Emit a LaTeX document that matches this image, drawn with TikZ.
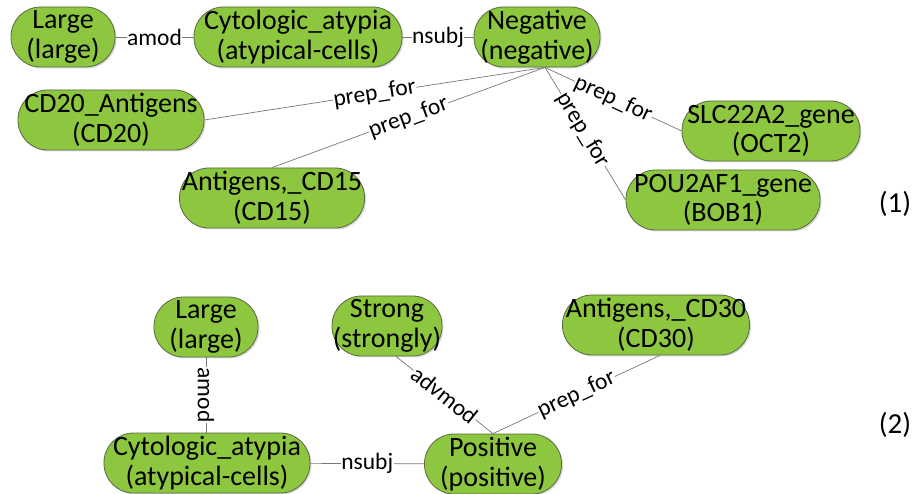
\documentclass[tikz,border=0pt]{standalone}
\usepackage{fontspec}
\setmainfont{Carlito}
\usetikzlibrary{shadows}
\definecolor{ndfill}{RGB}{141,198,63}
\definecolor{ndline}{RGB}{90,105,65}
\definecolor{edgecol}{RGB}{120,120,120}
\newcommand{\ndfont}{\fontsize{28}{29.5}\selectfont}
\newcommand{\lbfont}{\fontsize{23.5}{25}\selectfont}
\newcommand{\numfont}{\fontsize{29}{31}\selectfont}
\begin{document}
\begin{tikzpicture}[x=1pt,y=-1pt,
  nd/.style={draw=ndline, line width=0.8pt, fill=ndfill, rounded corners=29.5pt,
    minimum height=60pt, align=center, inner sep=0pt, font=\ndfont,
    drop shadow={shadow xshift=1.5pt, shadow yshift=-1.5pt, fill=black, opacity=0.15}},
  edge/.style={draw=edgecol, line width=0.7pt},
  lbl/.style={fill=white, inner sep=0.5pt, font=\lbfont},
  num/.style={font=\numfont}
]
\fill[white] (0,0) rectangle (924,494);
\useasboundingbox (0,0) rectangle (924,494);

% graph (1)
\node[nd, minimum width=104pt] (lg1) at (63,37) {Large\\(large)};
\node[nd, minimum width=208pt] (cy1) at (298,37) {Cytologic\_atypia\\(atypical-cells)};
\node[nd, minimum width=126pt] (neg) at (537,37) {Negative\\(negative)};
\node[nd, minimum width=186pt] (cd20) at (111,120) {CD20\_Antigens\\(CD20)};
\node[nd, minimum width=185pt] (cd15) at (272,198) {Antigens,\_CD15\\(CD15)};
\node[nd, minimum width=178pt] (slc) at (771,131) {SLC22A2\_gene\\(OCT2)};
\node[nd, minimum width=194pt] (pou) at (723,200) {POU2AF1\_gene\\(BOB1)};
\node[num] (n1) at (895,204) {(1)};

\draw[edge] (lg1) -- node[lbl] {amod} (cy1);
\draw[edge] (cy1) -- node[lbl] {nsubj} (neg);
\draw[edge] ([xshift=8pt]neg.south) -- node[lbl, sloped, pos=0.5] {prep\_for} (cd20.east);
\draw[edge] ([xshift=8pt]neg.south) -- node[lbl, sloped, pos=0.5] {prep\_for} (cd15.north);
\draw[edge] ([xshift=8pt]neg.south) -- node[lbl, sloped, pos=0.5] {prep\_for} (slc.west);
\draw[edge] ([xshift=8pt]neg.south) -- node[lbl, sloped, pos=0.47] {prep\_for} (pou.west);

% graph (2)
\node[nd, minimum width=104pt] (lg2) at (206,327) {Large\\(large)};
\node[nd, minimum width=110pt] (st) at (387,326) {Strong\\(strongly)};
\node[nd, minimum width=187pt] (cd30) at (656,325) {Antigens,\_CD30\\(CD30)};
\node[nd, minimum width=206pt] (cy2) at (207,463) {Cytologic\_atypia\\(atypical-cells)};
\node[nd, minimum width=137pt] (pos) at (493,464) {Positive\\(positive)};
\node[num] (n2) at (895,425) {(2)};

\draw[edge] (lg2.south) -- node[lbl, rotate=-90] {amod} (lg2.south |- cy2.north);
\draw[edge] (cy2) -- node[lbl] {nsubj} (pos);
\draw[edge] ([xshift=9pt]st.south) -- node[lbl, sloped] {advmod} (pos.north);
\draw[edge] ([xshift=4pt]cd30.south) -- node[lbl, sloped] {prep\_for} (pos.north);
\end{tikzpicture}
\end{document}
